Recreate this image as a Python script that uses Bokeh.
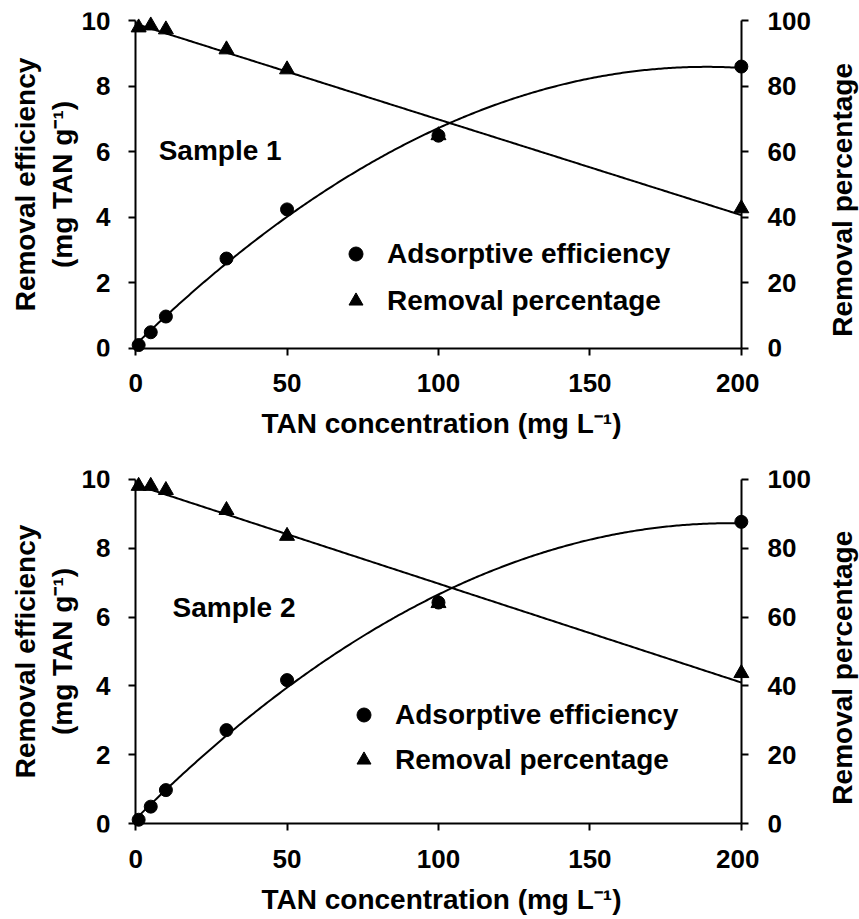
import math
import numpy as np
from bokeh.plotting import figure
from bokeh.models import Range1d, LinearAxis, FixedTicker, Legend, LegendItem, Label
from bokeh.layouts import column, row
from bokeh.core.properties import value
from bokeh.embed import file_html
from bokeh.resources import INLINE

# ---- data ----
tan_conc = [1, 5, 10, 30, 50, 100, 200]
s1_adsorptive = [0.10, 0.49, 0.97, 2.74, 4.24, 6.49, 8.60]
s1_removal = [97.9, 98.5, 97.3, 91.2, 85.1, 65.0, 42.7]
s2_adsorptive = [0.12, 0.50, 0.98, 2.72, 4.17, 6.42, 8.76]
s2_removal = [98.0, 98.0, 96.8, 91.0, 83.5, 64.0, 43.7]
x_ticks = [0, 50, 100, 150, 200]
left_ticks = [0, 2, 4, 6, 8, 10]
right_ticks = [0, 20, 40, 60, 80, 100]
sample_names = ["Sample 1", "Sample 2"]
legend_labels = ["Adsorptive efficiency", "Removal percentage"]
x_title = "TAN concentration (mg L\u207b\u00b9)"
y_title_1 = "Removal efficiency"
y_title_2 = "(mg TAN g\u207b\u00b9)"
y2_title = "Removal percentage"

FONT = "Liberation Sans"
TICK_FS = "26px"
TITLE_FS = "28px"


def line_axis(ax):
    """Axis rule and ticks at a fixed data location (no texts)."""
    ax.axis_line_width = 2
    ax.axis_line_color = "black"
    ax.major_tick_line_width = 2
    ax.major_tick_line_color = "black"
    ax.major_tick_out = 7
    ax.major_tick_in = 0
    ax.minor_tick_line_color = None
    ax.major_label_text_font_size = "0px"
    ax.major_label_text_color = None
    return ax


def blank_fig(width, yr, cfg):
    f = figure(x_range=Range1d(0, width), y_range=yr, frame_width=width, frame_height=cfg["frame_h"],
               min_border_left=0, min_border_right=0, min_border_top=cfg["top"],
               min_border_bottom=cfg["bottom"], x_axis_location=None, y_axis_location=None,
               output_backend="svg", toolbar_location=None)
    f.grid.visible = False
    f.outline_line_color = None
    f.background_fill_color = "white"
    f.border_fill_color = "white"
    return f


def make_panel(ads, rem, name, cfg):
    yr = Range1d(-0.25, 10.25)
    pr = Range1d(-2.5, 102.5)
    p = figure(
        x_range=Range1d(-4, 206), y_range=yr,
        frame_width=636, frame_height=cfg["frame_h"],
        min_border_left=0, min_border_right=0,
        min_border_top=cfg["top"], min_border_bottom=cfg["bottom"],
        x_axis_location=None, y_axis_location=None,
        output_backend="svg", toolbar_location=None,
    )
    p.grid.visible = False
    p.outline_line_color = None
    p.background_fill_color = "white"
    p.border_fill_color = "white"
    p.extra_y_ranges = {"pct": pr}

    # x tick labels and title (centred texts) on a text-only axis
    xl = LinearAxis(ticker=FixedTicker(ticks=x_ticks), bounds=(0, 200), axis_label=x_title)
    xl.axis_line_color = None
    xl.major_tick_line_color = None
    xl.minor_tick_line_color = None
    xl.major_tick_out = 0
    xl.major_tick_in = 0
    xl.major_label_standoff = 17
    xl.axis_label_standoff = 13
    xl.major_label_text_font = FONT
    xl.major_label_text_font_style = "bold"
    xl.major_label_text_font_size = TICK_FS
    xl.major_label_text_color = "black"
    xl.axis_label_text_font = FONT
    xl.axis_label_text_font_style = "bold"
    xl.axis_label_text_font_size = TITLE_FS
    xl.axis_label_text_color = "black"
    p.add_layout(xl, "below")

    # rules and ticks at data 0 / 200
    p.add_layout(line_axis(LinearAxis(ticker=FixedTicker(ticks=x_ticks), bounds=(0, 200), fixed_location=0)), "below")
    p.add_layout(line_axis(LinearAxis(ticker=FixedTicker(ticks=left_ticks), bounds=(0, 10), fixed_location=0)), "left")
    p.add_layout(line_axis(LinearAxis(y_range_name="pct", ticker=FixedTicker(ticks=right_ticks), bounds=(0, 100),
                                      fixed_location=200)), "right")

    # trendlines fitted to the data (quadratic / linear)
    xfit = np.linspace(min(tan_conc), max(tan_conc), 300)
    c2 = np.polyfit(tan_conc, ads, 2)
    c1 = np.polyfit(tan_conc, rem, 1)
    p.line(xfit, np.polyval(c2, xfit), line_color="black", line_width=2)
    p.line(xfit, np.polyval(c1, xfit), line_color="black", line_width=2, y_range_name="pct")

    rc = p.scatter(tan_conc, ads, marker="circle", size=13, color="black")
    rt = p.scatter(tan_conc, rem, marker="triangle", size=15, color="black", y_range_name="pct")

    legend = Legend(
        items=[LegendItem(label=legend_labels[0], renderers=[rc]),
               LegendItem(label=legend_labels[1], renderers=[rt])],
        location=cfg["leg_loc"], orientation="vertical",
        glyph_width=35, glyph_height=cfg["leg_h"], label_height=cfg["leg_h"],
        spacing=0, padding=0, margin=0, label_standoff=14,
        border_line_color=None, background_fill_alpha=0,
        label_text_font=FONT, label_text_font_style="bold", label_text_font_size=TITLE_FS,
        label_text_color="black",
    )
    p.add_layout(legend)

    p.add_layout(Label(x=cfg["lab"][0], y=cfg["lab"][1], text=name, text_align="left",
                       text_baseline="middle", text_font=FONT, text_font_style="bold",
                       text_font_size=TITLE_FS, text_color="black"))

    # left side: tick labels and two-line title
    left = blank_fig(123, yr, cfg)
    left.text(x=110, y=left_ticks, text=[str(t) for t in left_ticks], text_align="right",
              text_baseline="middle", text_font=value(FONT), text_font_style="bold",
              text_font_size=TICK_FS, text_color="black")
    left.add_layout(Label(x=25, y=5, text=y_title_1, angle=math.pi / 2, text_align="center",
                          text_baseline="middle", text_font=FONT, text_font_style="bold",
                          text_font_size=TITLE_FS, text_color="black"))
    left.add_layout(Label(x=62, y=5, text=y_title_2, angle=math.pi / 2, text_align="center",
                          text_baseline="middle", text_font=FONT, text_font_style="bold",
                          text_font_size=TITLE_FS, text_color="black"))

    # right side: percentage tick labels and title
    right = blank_fig(100, pr, cfg)
    right.text(x=8, y=right_ticks, text=[str(t) for t in right_ticks], text_align="left",
               text_baseline="middle", text_font=value(FONT), text_font_style="bold",
               text_font_size=TICK_FS, text_color="black")
    right.add_layout(Label(x=83, y=45.3, text=y2_title, angle=math.pi / 2, text_align="center",
                           text_baseline="middle", text_font=FONT, text_font_style="bold",
                           text_font_size=TITLE_FS, text_color="black"))

    return row(left, p, right, spacing=0)


r1 = make_panel(s1_adsorptive, s1_removal, sample_names[0],
                dict(frame_h=344, top=12, bottom=104, leg_loc=(215, 32), leg_h=47,
                     lab=(7.6, 6.04)))
r2 = make_panel(s2_adsorptive, s2_removal, sample_names[1],
                dict(frame_h=362, top=10, bottom=87, leg_loc=(223, 50), leg_h=45,
                     lab=(12.2, 6.29)))

layout = column(r1, r2, spacing=0)
open("out.html", "w").write(file_html(layout, INLINE))
